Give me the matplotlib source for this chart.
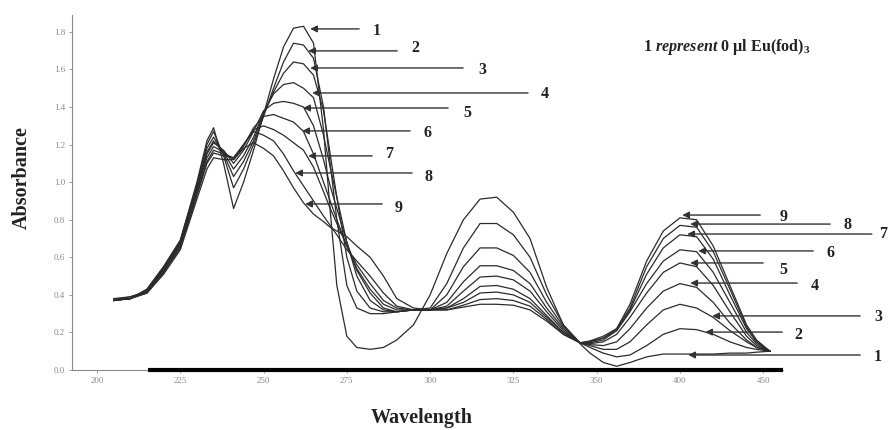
import matplotlib
matplotlib.use("Agg")
import matplotlib.pyplot as plt

# Wavelength grid, in the chart's own axis units (tick positions 200..400
# carry the printed labels 200..350, 400, 450 as in the original figure).
WAVE = [205, 210, 215, 220, 225, 230, 233, 235, 238, 241, 244, 247, 250,
        253, 256, 259, 262, 265, 268, 270, 272, 275, 278, 282, 286, 290,
        295, 300, 305, 310, 315, 320, 325, 330, 335, 340, 345, 348, 352,
        356, 360, 365, 370, 375, 380, 385, 390, 395, 398, 402]

# Absorbance, one list per Eu(fod)3 addition (1 = 0 ul ... 9 = most).
CURVE_1 = [0.37, 0.38, 0.43, 0.55, 0.69, 1.00, 1.22, 1.29, 1.10, 0.86, 1.00, 1.17, 1.36,
           1.55, 1.72, 1.82, 1.83, 1.74, 1.28, 0.85, 0.45, 0.18, 0.12, 0.11, 0.12, 0.16,
           0.24, 0.40, 0.62, 0.80, 0.91, 0.92, 0.84, 0.70, 0.44, 0.24, 0.14, 0.09, 0.04,
           0.02, 0.04, 0.07, 0.085, 0.085, 0.085, 0.085, 0.09, 0.09, 0.095, 0.10]
CURVE_2 = [0.37, 0.38, 0.43, 0.55, 0.69, 0.99, 1.20, 1.27, 1.14, 0.97, 1.07, 1.20, 1.35,
           1.50, 1.64, 1.74, 1.73, 1.66, 1.40, 1.10, 0.80, 0.45, 0.33, 0.30, 0.30, 0.31,
           0.32, 0.33, 0.46, 0.65, 0.78, 0.78, 0.72, 0.60, 0.40, 0.24, 0.145, 0.12, 0.09,
           0.07, 0.08, 0.13, 0.19, 0.22, 0.215, 0.19, 0.15, 0.12, 0.11, 0.10]
CURVE_3 = [0.38, 0.38, 0.42, 0.54, 0.68, 0.98, 1.18, 1.24, 1.15, 1.03, 1.11, 1.22, 1.36,
           1.48, 1.58, 1.64, 1.63, 1.57, 1.38, 1.15, 0.92, 0.60, 0.42, 0.33, 0.31, 0.31,
           0.32, 0.32, 0.40, 0.55, 0.65, 0.65, 0.61, 0.52, 0.36, 0.23, 0.145, 0.13, 0.11,
           0.11, 0.15, 0.24, 0.32, 0.35, 0.33, 0.28, 0.21, 0.15, 0.12, 0.10]
CURVE_4 = [0.37, 0.39, 0.42, 0.54, 0.68, 0.97, 1.16, 1.22, 1.16, 1.07, 1.14, 1.24, 1.37,
           1.47, 1.52, 1.53, 1.50, 1.45, 1.25, 1.08, 0.92, 0.68, 0.50, 0.37, 0.32, 0.31,
           0.32, 0.32, 0.36, 0.47, 0.555, 0.555, 0.53, 0.46, 0.33, 0.22, 0.145, 0.135, 0.13,
           0.15, 0.22, 0.33, 0.42, 0.46, 0.44, 0.36, 0.25, 0.16, 0.12, 0.10]
CURVE_5 = [0.38, 0.38, 0.42, 0.53, 0.67, 0.96, 1.15, 1.21, 1.17, 1.10, 1.17, 1.27, 1.38,
           1.42, 1.43, 1.42, 1.40, 1.30, 1.12, 0.98, 0.86, 0.68, 0.53, 0.41, 0.33, 0.31,
           0.32, 0.32, 0.34, 0.42, 0.495, 0.50, 0.48, 0.42, 0.31, 0.21, 0.145, 0.14, 0.15,
           0.19, 0.28, 0.41, 0.52, 0.57, 0.55, 0.45, 0.31, 0.18, 0.13, 0.10]
CURVE_6 = [0.37, 0.38, 0.42, 0.53, 0.67, 0.95, 1.13, 1.19, 1.16, 1.12, 1.19, 1.29, 1.35,
           1.36, 1.34, 1.32, 1.27, 1.15, 1.00, 0.90, 0.80, 0.66, 0.54, 0.43, 0.35, 0.32,
           0.32, 0.32, 0.33, 0.38, 0.445, 0.45, 0.43, 0.38, 0.29, 0.20, 0.145, 0.145, 0.16,
           0.21, 0.31, 0.46, 0.58, 0.64, 0.63, 0.52, 0.36, 0.20, 0.14, 0.10]
CURVE_7 = [0.38, 0.39, 0.41, 0.52, 0.66, 0.94, 1.11, 1.17, 1.15, 1.13, 1.20, 1.28, 1.30,
           1.28, 1.25, 1.21, 1.17, 1.08, 0.95, 0.86, 0.78, 0.66, 0.56, 0.46, 0.37, 0.33,
           0.32, 0.32, 0.33, 0.36, 0.41, 0.415, 0.40, 0.36, 0.28, 0.20, 0.145, 0.15, 0.17,
           0.21, 0.32, 0.51, 0.65, 0.72, 0.71, 0.59, 0.40, 0.22, 0.15, 0.10]
CURVE_8 = [0.37, 0.38, 0.41, 0.52, 0.65, 0.93, 1.10, 1.155, 1.14, 1.13, 1.20, 1.27, 1.25,
           1.22, 1.15, 1.06, 0.98, 0.90, 0.82, 0.77, 0.72, 0.64, 0.58, 0.50, 0.41, 0.34,
           0.32, 0.32, 0.32, 0.345, 0.375, 0.38, 0.37, 0.34, 0.27, 0.19, 0.145, 0.15, 0.17,
           0.22, 0.33, 0.55, 0.70, 0.77, 0.76, 0.63, 0.43, 0.23, 0.15, 0.10]
CURVE_9 = [0.38, 0.38, 0.41, 0.51, 0.64, 0.91, 1.07, 1.13, 1.12, 1.12, 1.18, 1.21, 1.18,
           1.14, 1.06, 0.97, 0.89, 0.83, 0.79, 0.76, 0.74, 0.71, 0.66, 0.60, 0.50, 0.38,
           0.33, 0.32, 0.32, 0.335, 0.35, 0.35, 0.345, 0.32, 0.26, 0.19, 0.145, 0.155, 0.18,
           0.22, 0.35, 0.58, 0.74, 0.81, 0.80, 0.66, 0.45, 0.24, 0.16, 0.10]
SERIES = [CURVE_1, CURVE_2, CURVE_3, CURVE_4, CURVE_5,
          CURVE_6, CURVE_7, CURVE_8, CURVE_9]

XTICK_POS = [200, 225, 250, 275, 300, 325, 350, 375, 400]
XTICK_LABELS = ["200", "225", "250", "275", "300", "325", "350", "400", "450"]
YTICKS = [0.0, 0.2, 0.4, 0.6, 0.8, 1.0, 1.2, 1.4, 1.6, 1.8]

# Arrow call-outs: (label, head x, head y, tail x, label x, label y)
ARROWS_260 = [
    ("1", 264.0, 1.816, 278.7, 284.1, 1.805),
    ("2", 263.4, 1.699, 290.1, 295.5, 1.715),
    ("3", 264.0, 1.608, 309.9, 315.6, 1.597),
    ("4", 264.6, 1.475, 329.4, 334.5, 1.470),
    ("5", 261.9, 1.395, 305.4, 311.1, 1.368),
    ("6", 261.6, 1.273, 294.0, 299.1, 1.262),
    ("7", 263.4, 1.140, 282.6, 287.7, 1.150),
    ("8", 259.5, 1.049, 294.6, 299.4, 1.028),
    ("9", 262.5, 0.884, 285.6, 290.4, 0.863),
]
ARROWS_400 = [
    ("9", 375.7, 0.825, 399.1, 406.0, 0.815),
    ("8", 378.1, 0.777, 420.1, 425.2, 0.772),
    ("7", 377.2, 0.724, 432.6, 435.9, 0.724),
    ("6", 380.5, 0.634, 415.0, 420.1, 0.623),
    ("5", 378.1, 0.570, 400.0, 406.0, 0.532),
    ("4", 378.1, 0.463, 410.2, 415.6, 0.447),
    ("3", 384.7, 0.288, 429.1, 434.5, 0.282),
    ("2", 382.6, 0.202, 405.7, 410.5, 0.186),
    ("1", 377.5, 0.080, 429.1, 434.5, 0.069),
]

plt.rcParams["font.family"] = ["Liberation Serif", "DejaVu Serif"]
plt.rcParams["mathtext.fontset"] = "custom"
plt.rcParams["mathtext.rm"] = "Liberation Serif:bold"
plt.rcParams["mathtext.bf"] = "Liberation Serif:bold"
plt.rcParams["mathtext.it"] = "Liberation Serif:italic:bold"

fig = plt.figure(figsize=(8.89, 4.30), dpi=100)
ax = fig.add_axes([0.081, 0.1395, 0.80, 0.8256])

for ys in SERIES:
    ax.plot(WAVE, ys, color="#2b2b2b", lw=0.9)

ax.set_xlim(192.5, 406)
ax.set_ylim(0, 1.89)
ax.set_xticks(XTICK_POS, XTICK_LABELS)
ax.set_yticks(YTICKS, [f"{v:.1f}" for v in YTICKS])
for side in ("top", "right"):
    ax.spines[side].set_visible(False)
for side in ("left", "bottom"):
    ax.spines[side].set_color("#8a8a8a")
    ax.spines[side].set_linewidth(0.8)
ax.tick_params(labelsize=6.5, colors="#8a8a8a", length=2, width=0.6, pad=3)

# heavy baseline drawn under the spectra in the original
ax.plot([215.3, 406], [0, 0], color="black", lw=3, solid_capstyle="butt",
        clip_on=False, zorder=3)

arrow_kw = dict(arrowstyle="-|>", color="#333333", lw=1.0,
                mutation_scale=10, shrinkA=0, shrinkB=0)
for lab, hx, hy, tx, lx, ly in ARROWS_260 + ARROWS_400:
    ax.annotate("", xy=(hx, hy), xytext=(tx, hy), arrowprops=arrow_kw,
                annotation_clip=False)
    ax.text(lx, ly, lab, fontsize=11.5, fontweight="bold", ha="center",
            va="center", color="#222222", clip_on=False)

fig.text(0.723, 0.891, r"$\mathrm{1}\ \mathit{represent}\ \mathrm{0\ µl\ Eu(fod)_3}$",
         fontsize=11.5, ha="left", va="center", color="#222222")

fig.text(22 / 889, 1 - 178 / 430, "Absorbance", rotation=90, fontsize=14.5,
         fontweight="bold", ha="center", va="center", color="#222222")
fig.text(422 / 889, 1 - 418 / 430, "Wavelength", fontsize=14.5,
         fontweight="bold", ha="center", va="center", color="#222222")

fig.savefig("out.png", dpi=100)
